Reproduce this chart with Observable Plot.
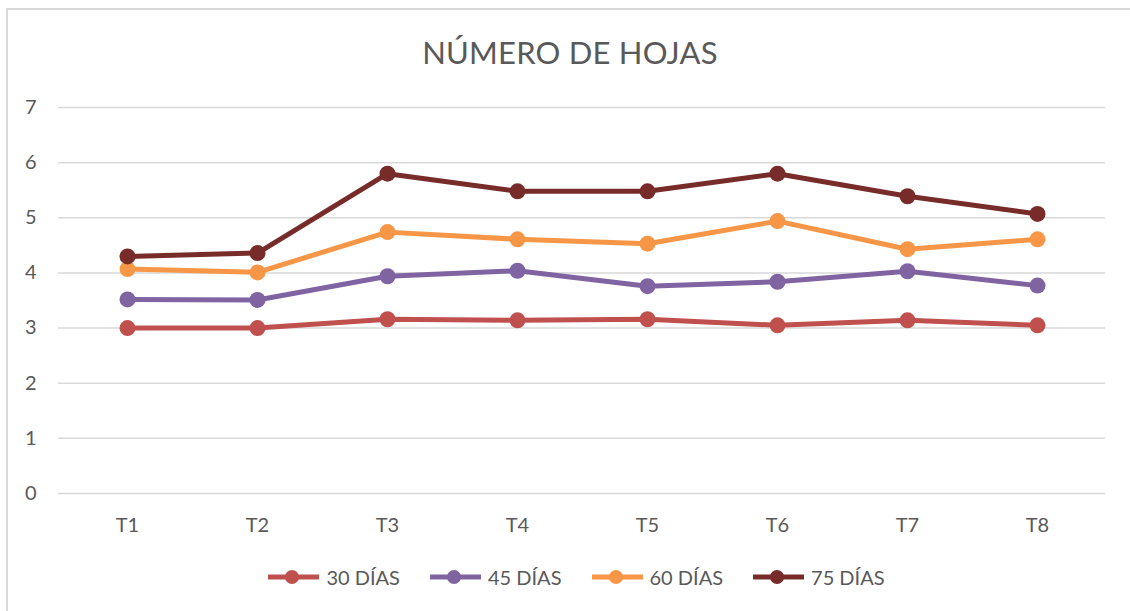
<!DOCTYPE html>
<html>
<head>
<meta charset="utf-8">
<script src="https://cdn.jsdelivr.net/npm/d3@7"></script>
<script src="https://cdn.jsdelivr.net/npm/@observablehq/plot@0.6"></script>
<style>
  html, body { margin: 0; padding: 0; width: 1130px; height: 611px; overflow: hidden; background: #fff; }
  #frame { position: absolute; left: 6px; top: 8px; width: 1140px; height: 620px; border: 2px solid #d9d9d9; box-sizing: border-box; }
  #title { position: absolute; left: 0; top: 33px; width: 1140px; text-align: center; font-family: Lato, "Open Sans", sans-serif; font-size: 31px; color: #595959; letter-spacing: 0.2px; }
  #chart { position: absolute; left: 0; top: 80px; }
  #chart svg text { font-size: 20px; font-family: Lato, "Open Sans", sans-serif; }
  #legend { position: absolute; left: 0; top: 565px; width: 1153px; display: flex; justify-content: center; font-family: Lato, "Open Sans", sans-serif; font-size: 20px; color: #595959; }
  .item { display: flex; align-items: center; margin: 0 15px; }
  .item svg { margin-right: 7px; }
</style>
</head>
<body>
<div id="frame"></div>
<div id="title">NÚMERO DE HOJAS</div>
<div id="chart"></div>
<div id="legend"></div>
<script>
const categories = ["T1", "T2", "T3", "T4", "T5", "T6", "T7", "T8"];
const seriesNames = ["30 DÍAS", "45 DÍAS", "60 DÍAS", "75 DÍAS"];
const seriesColors = ["#C0504D", "#8064A2", "#F79646", "#772C2A"];
const dias30 = [3.00, 3.00, 3.16, 3.14, 3.16, 3.05, 3.14, 3.05];
const dias45 = [3.52, 3.51, 3.94, 4.04, 3.76, 3.84, 4.03, 3.77];
const dias60 = [4.07, 4.01, 4.74, 4.61, 4.53, 4.94, 4.43, 4.61];
const dias75 = [4.30, 4.36, 5.80, 5.48, 5.48, 5.80, 5.39, 5.07];
const yTicks = [0, 1, 2, 3, 4, 5, 6, 7];

const allSeries = [dias30, dias45, dias60, dias75];
const data = [];
allSeries.forEach((vals, si) => {
  vals.forEach((v, i) => data.push({serie: seriesNames[si], cat: categories[i], value: v}));
});

const plot = Plot.plot({
  width: 1130,
  height: 470,
  marginLeft: 58,
  marginRight: 25,
  marginTop: 27,
  marginBottom: 57,
  style: {fontFamily: "Lato, 'Open Sans', sans-serif", fontSize: "20px", color: "#595959", background: "transparent"},
  x: {type: "point", domain: categories, padding: 0.5, label: null},
  y: {domain: [0, 7], ticks: yTicks, label: null},
  color: {domain: seriesNames, range: seriesColors},
  marks: [
    Plot.ruleY(yTicks, {stroke: "#d9d9d9", strokeWidth: 1.5}),
    Plot.axisY({ticks: yTicks, tickFormat: "d", tickSize: 0, tickPadding: 22, fontSize: 20, fill: "#595959", label: null}),
    Plot.axisX({tickSize: 0, tickPadding: 24, fontSize: 20, fill: "#595959", label: null}),
    Plot.line(data, {x: "cat", y: "value", z: "serie", stroke: "serie", strokeWidth: 5, strokeLinejoin: "round"}),
    Plot.dot(data, {x: "cat", y: "value", fill: "serie", r: 8, stroke: "none"})
  ]
});
document.getElementById("chart").appendChild(plot);

const legend = document.getElementById("legend");
seriesNames.forEach((name, i) => {
  const item = document.createElement("div");
  item.className = "item";
  item.innerHTML = `<svg width="51" height="16"><line x1="0" y1="8" x2="51" y2="8" stroke="${seriesColors[i]}" stroke-width="5"/><circle cx="24" cy="8" r="7" fill="${seriesColors[i]}"/></svg><span>${name}</span>`;
  legend.appendChild(item);
});
</script>
</body>
</html>
